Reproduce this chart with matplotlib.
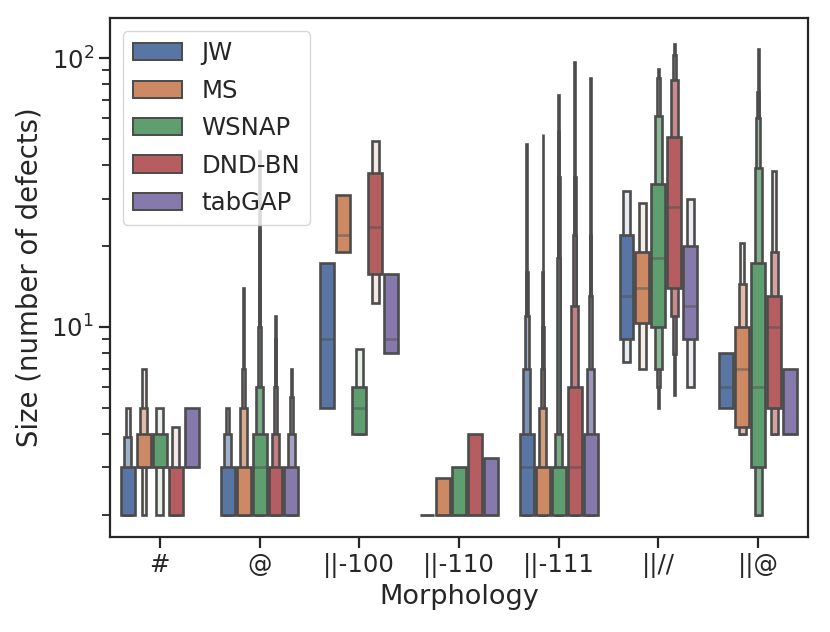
import colorsys
import matplotlib
matplotlib.use("Agg")
import matplotlib.pyplot as plt
from matplotlib.patches import Patch
import matplotlib.colors as mcolors

categories = ["#", "@", "||-100", "||-110", "||-111", "||//", "||@"]
models = ["JW", "MS", "WSNAP", "DND-BN", "tabGAP"]
base_colors = ["#4C72B0", "#DD8452", "#55A868", "#C44E52", "#8172B3"]

# Letter-value boxes (low, high), innermost first, one list per category
jw_boxes = [
    [(2, 3), (2, 3.9), (2, 5)],
    [(2, 3), (2, 4), (2, 5)],
    [(5, 17.3)],
    [(2, 2)],
    [(2, 4), (2, 7), (2, 11), (2, 16), (2, 48)],
    [(9, 22), (7.4, 32)],
    [(5, 8)],
]
jw_medians = [2, 2, 9, 2, 3, 13, 6]

ms_boxes = [
    [(3, 4), (3, 5), (2, 7)],
    [(2, 3), (2, 5), (2, 7), (2, 14)],
    [(19, 31)],
    [(2, 2.75)],
    [(2, 3), (2, 5), (2, 7), (2, 10), (2, 16), (2, 52)],
    [(10.3, 19), (7, 29)],
    [(4.25, 10), (4, 14.5), (4, 20.6)],
]
ms_medians = [3, 2, 22, 2, 3, 14, 7]

wsnap_boxes = [
    [(3, 4), (2, 5)],
    [(2, 4), (2, 6), (2, 10), (2, 14), (2, 23), (2, 45)],
    [(4, 6), (4, 8.3)],
    [(2, 3)],
    [(2, 3), (2, 4), (2, 18), (2, 36), (2, 53), (2, 73)],
    [(10, 34), (7, 61), (6, 84), (5, 91)],
    [(3, 17.3), (2, 39), (2, 60), (2, 75), (2, 108)],
]
wsnap_medians = [3, 3, 5, 2, 3, 18, 6]

dndbn_boxes = [
    [(2, 3), (2, 4.25)],
    [(2, 3), (2, 4), (2, 6), (2, 9), (2, 11)],
    [(15.7, 37.3), (12.3, 49)],
    [(2, 4)],
    [(2, 6), (2, 12), (2, 22), (2, 36), (2, 97)],
    [(14, 51), (11, 83), (7.9, 103), (5.6, 113)],
    [(5, 13), (4, 19), (4, 38)],
]
dndbn_medians = [2, 2, 23.6, 2, 3, 28, 10]

tabgap_boxes = [
    [(3, 5)],
    [(2, 3), (2, 4), (2, 5.5), (2, 7)],
    [(8, 15.7)],
    [(2, 3.25)],
    [(2, 4), (2, 7), (2, 13), (2, 22), (2, 84)],
    [(9, 20), (6, 30)],
    [(4, 7)],
]
tabgap_medians = [3, 2, 9, 2, 2, 12, 4]

all_boxes = [jw_boxes, ms_boxes, wsnap_boxes, dndbn_boxes, tabgap_boxes]
all_medians = [jw_medians, ms_medians, wsnap_medians, dndbn_medians, tabgap_medians]


def desaturate(c, prop=0.75):
    r, g, b = mcolors.to_rgb(c)
    h, l, s = colorsys.rgb_to_hls(r, g, b)
    return colorsys.hls_to_rgb(h, l, s * prop)


colors = [desaturate(c) for c in base_colors]
lum = min(colorsys.rgb_to_hls(*c)[1] for c in colors) * 0.6
gray = (lum, lum, lum)

text_color = "0.15"
plt.rcParams.update({
    "font.family": "DejaVu Sans",
    "text.color": text_color,
    "axes.labelcolor": text_color,
    "xtick.color": text_color,
    "ytick.color": text_color,
    "axes.edgecolor": text_color,
})

fig = plt.figure(figsize=(8.3, 6.32), dpi=100)
ax = fig.add_axes([0.1325, 0.150, 0.841, 0.8215])

lw = 1.9
w0 = 0.14
n_h = len(models)
for h, (boxes_m, med_m, col) in enumerate(zip(all_boxes, all_medians, colors)):
    col = mcolors.to_rgb(col)
    light = tuple(c + 0.85 * (1 - c) for c in col)
    for ci, levels in enumerate(boxes_m):
        x = ci + (h - (n_h - 1) / 2) * 0.16
        k = len(levels)
        for j in range(k - 1, -1, -1):
            lo, hi = levels[j]
            t = j / (k - 1) if k > 1 else 0.0
            fc = tuple(a + t * (b - a) for a, b in zip(col, light))
            ax.bar(x, hi - lo, bottom=lo, width=w0 * 0.5 ** j,
                   color=fc, edgecolor=gray, linewidth=lw, zorder=1)
        ax.plot([x - w0 / 2, x + w0 / 2], [med_m[ci]] * 2, color=gray,
                alpha=0.45, linewidth=lw, zorder=2, solid_capstyle="butt")

ax.set_yscale("log")
ax.set_ylim(1.65, 141)
ax.set_xlim(-0.5, len(categories) - 0.5)
ax.set_xticks(range(len(categories)))
ax.set_xticklabels(categories)
ax.set_xlabel("Morphology", fontsize=19.5, labelpad=4)
ax.set_ylabel("Size (number of defects)", fontsize=19.8, labelpad=6)
ax.tick_params(axis="both", which="major", labelsize=17.6, length=8,
               width=1.6, direction="out")
ax.tick_params(axis="y", which="minor", length=5.5, width=1.3)
for s in ax.spines.values():
    s.set_linewidth(1.6)

handles = [Patch(facecolor=c, edgecolor=gray, linewidth=lw * 0.75, label=m)
           for c, m in zip(colors, models)]
leg = ax.legend(handles=handles, loc="upper left", fontsize=17.6,
                frameon=True, framealpha=0.8, edgecolor="0.8", fancybox=True,
                labelspacing=0.55, borderaxespad=0.55)

fig.savefig("out.png", dpi=100)
